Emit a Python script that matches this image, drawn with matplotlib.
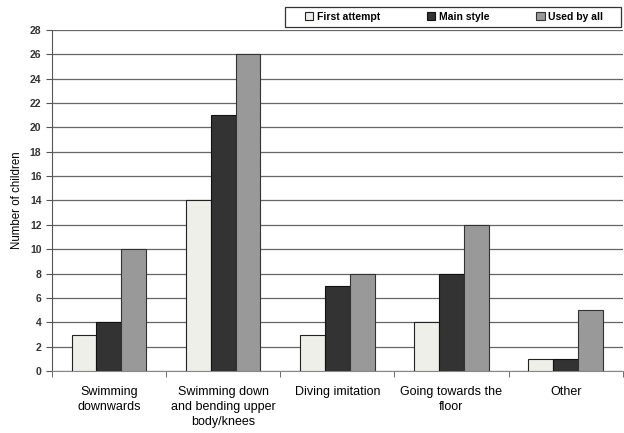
import numpy as np
import matplotlib.pyplot as plt
from matplotlib.patches import Rectangle

categories = ["Swimming\ndownwards", "Swimming down\nand bending upper\nbody/knees",
              "Diving imitation", "Going towards the\nfloor", "Other"]
first_attempt = [3, 14, 3, 4, 1]
main_style = [4, 21, 7, 8, 1]
used_by_all = [10, 26, 8, 12, 5]

plt.rcParams['font.family'] = ['Liberation Sans', 'DejaVu Sans']

fig = plt.figure(figsize=(6.24, 4.33), dpi=100)
ax = fig.add_axes([0.083, 0.143, 0.915, 0.788])

x = np.arange(len(categories))
w = 0.218
ax.bar(x - w, first_attempt, w, color="#efefe9", edgecolor="#222222", linewidth=0.8,
       label="First attempt", zorder=3)
ax.bar(x, main_style, w, color="#333333", edgecolor="#111111", linewidth=0.8,
       label="Main style", zorder=3)
ax.bar(x + w, used_by_all, w, color="#999999", edgecolor="#333333", linewidth=0.8,
       label="Used by all", zorder=3)

ax.set_xlim(-0.5, len(categories) - 0.5)
ax.set_ylim(0, 28)
ax.set_yticks(range(0, 29, 2))
ax.yaxis.grid(True, color="#666666", linewidth=0.9, zorder=0)

ax.set_xticks(x)
ax.set_xticklabels(categories, fontsize=9, linespacing=1.3)
ax.set_xticks(np.arange(-0.5, len(categories), 1), minor=True)
ax.tick_params(axis="x", which="major", length=0, pad=11)
ax.tick_params(axis="x", which="minor", length=4, color="#555555")
ax.tick_params(axis="y", labelsize=7.5, length=4, color="#555555")
for lab in ax.get_yticklabels():
    lab.set_fontweight("bold")
    lab.set_color("#333333")

for s in ["top", "right"]:
    ax.spines[s].set_visible(False)
ax.spines["left"].set_color("#555555")
ax.spines["bottom"].set_color("#888888")

ax.set_ylabel("Number of children", fontsize=8.3, labelpad=5)

# legend box drawn separately, entries placed inside it
fig.patches.append(Rectangle((285 / 624, 1 - 27 / 433), 336 / 624, 20 / 433,
                             transform=fig.transFigure, facecolor="white",
                             edgecolor="#333333", linewidth=0.9))
fig.legend(loc="upper left", bbox_to_anchor=(305 / 624, 1 - 11.5 / 433), ncol=3,
           frameon=False, handlelength=0.8, handleheight=0.8, columnspacing=4.5,
           handletextpad=0.35, borderpad=0, borderaxespad=0,
           prop={"weight": "bold", "size": 7.5})

fig.savefig("out.png", dpi=100)
